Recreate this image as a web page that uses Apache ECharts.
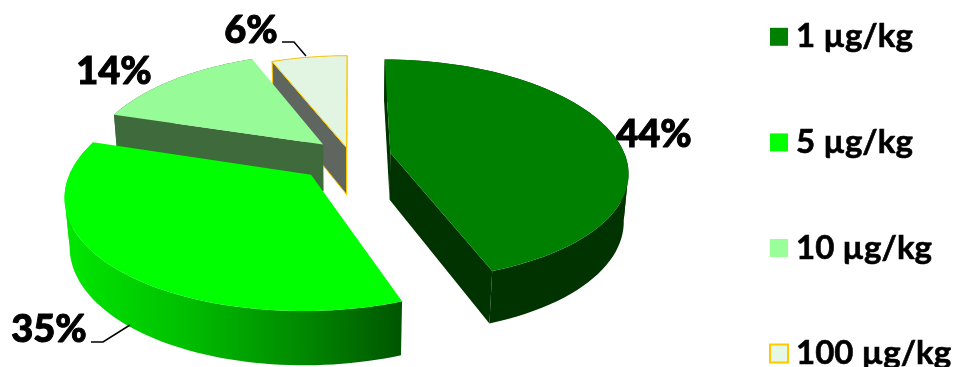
<!DOCTYPE html>
<html>
<head>
<meta charset="utf-8">
<style>html,body{margin:0;padding:0;background:#fff}#chart{width:955px;height:367px}</style>
<script src="https://cdn.jsdelivr.net/npm/echarts@6/dist/echarts.min.js"></script>
</head>
<body>
<div id="chart"></div>
<script>
// Dose groups and their percentage shares
const doses = ['1 µg/kg', '5 µg/kg', '10 µg/kg', '100 µg/kg'];
const shares = [44, 35, 14, 6];

// Appearance of each wedge
const topColors = ['#008000', '#00ff00', '#97fb97', '#e2f5e2'];
const legendColors = ['#008000', '#00ff00', '#99ff99', '#e5f8e5'];
const cutColors = ['#003300', '#005500', '#3f6a3c', '#5f665f'];
const outlineColors = [null, null, null, '#ffc800'];
const explode = [42, 56, 38, 19];

// Projection of the tilted disc onto the page
const view = { cx: 350, cy: 156, radiusX: 235, radiusY: 108.6, perspX: 0.165, perspY: 0.155, depth: 48, floor: 0.017 };

// Where each percentage text sits, with its optional leader line
const callouts = [
  { x: 654, y: 135, line: null },
  { x: 49, y: 330, line: [[91, 342], [103, 342], [130, 325]] },
  { x: 114, y: 72, line: null },
  { x: 251, y: 31, line: [[282, 42], [294, 42], [306, 56]] }
];

const total = shares.reduce((a, b) => a + b, 0);
const ARC_STEPS = 72;

function project(X, Y, lower) {
  const sink = lower ? view.floor : 0;
  return [
    view.cx + view.radiusX * X / (1 + view.perspX * Y + sink),
    view.cy + (-view.radiusY * Y + (lower ? view.depth : 0)) / (1 + view.perspY * Y + sink)
  ];
}

function wedgeGeometry(index) {
  const before = shares.slice(0, index).reduce((a, b) => a + b, 0);
  const a0 = before / total * 2 * Math.PI;
  const a1 = (before + shares[index]) / total * 2 * Math.PI;
  const mid = (a0 + a1) / 2;
  const d = explode[index] / 240;
  const ox = d * Math.sin(mid);
  const oy = d * Math.cos(mid);
  const rim = (lower) => {
    const pts = [];
    for (let i = 0; i <= ARC_STEPS; i++) {
      const a = a0 + (a1 - a0) * i / ARC_STEPS;
      pts.push(project(ox + Math.sin(a), oy + Math.cos(a), lower));
    }
    return pts;
  };
  return {
    apexTop: project(ox, oy, false),
    apexLow: project(ox, oy, true),
    rimTop: rim(false),
    rimLow: rim(true)
  };
}

function sideFill(index, rim) {
  if (index !== 1) return cutColors[index];
  const xs = rim.map((p) => p[0]);
  return {
    type: 'linear', global: true,
    x: Math.min.apply(null, xs), y: 0, x2: Math.max.apply(null, xs), y2: 0,
    colorStops: [
      { offset: 0, color: '#00e800' },
      { offset: 0.35, color: '#00c000' },
      { offset: 0.7, color: '#008a00' },
      { offset: 1, color: cutColors[index] }
    ]
  };
}

// The rim band folds over itself at the disc's widest points, so it is
// cut there and each part is filled on its own.
function rimBands(g) {
  const bands = [];
  let start = 0;
  let dir = 0;
  for (let i = 1; i <= ARC_STEPS; i++) {
    const step = Math.sign(g.rimTop[i][0] - g.rimTop[i - 1][0]);
    if (dir && step && step !== dir) {
      bands.push([start, i - 1]);
      start = i - 1;
    }
    if (step) dir = step;
  }
  bands.push([start, ARC_STEPS]);
  return bands.map(([a, b]) =>
    g.rimTop.slice(a, b + 1).concat(g.rimLow.slice(a, b + 1).reverse())
  );
}

function renderWedge(index) {
  const g = wedgeGeometry(index);
  const stroke = outlineColors[index];
  const edge = stroke ? { stroke: stroke, lineWidth: 1 } : { stroke: 'none' };
  const poly = (points, fill, style) => ({
    type: 'polygon',
    shape: { points: points },
    style: Object.assign({ fill: fill }, style || { stroke: 'none' })
  });
  const firstTop = g.rimTop[0];
  const lastTop = g.rimTop[ARC_STEPS];
  const lastLow = g.rimLow[ARC_STEPS];
  const bandFill = sideFill(index, g.rimTop);
  const children = rimBands(g).map((band) => poly(band, bandFill));
  // A cut face shows only when its lower edge falls outside the wedge
  if (firstTop[0] - g.apexTop[0] < 0) {
    children.push(poly([g.apexTop, firstTop, g.rimLow[0], g.apexLow], cutColors[index], edge));
  }
  if (lastTop[0] - g.apexTop[0] > 0) {
    children.push(poly([g.apexTop, lastTop, lastLow, g.apexLow], cutColors[index], edge));
  }
  children.push(poly([g.apexTop].concat(g.rimTop), topColors[index], edge));
  const c = callouts[index];
  if (c.line) {
    children.push({
      type: 'polyline',
      shape: { points: c.line },
      style: { stroke: '#000', lineWidth: 1.5, fill: 'none' }
    });
  }
  children.push({
    type: 'text',
    style: {
      x: c.x, y: c.y, text: shares[index] + '%',
      fill: '#000', stroke: '#000', lineWidth: 1,
      align: 'center', verticalAlign: 'middle',
      font: '900 38px Lato'
    }
  });
  return { type: 'group', children: children };
}

const chart = echarts.init(document.getElementById('chart'), null, { renderer: 'canvas' });
chart.setOption({
  animation: false,
  backgroundColor: '#fff',
  legend: {
    orient: 'vertical',
    left: 769,
    top: 20,
    height: 420,
    padding: 0,
    itemWidth: 18,
    itemHeight: 18,
    itemGap: 72,
    selectedMode: false,
    textStyle: {
      color: '#000', fontFamily: 'Lato', fontWeight: 'bold', fontSize: 33,
      padding: [0, 0, 0, 3], textBorderColor: '#000', textBorderWidth: 0.6
    },
    data: doses.map((name, i) => ({
      name: name,
      icon: 'rect',
      itemStyle: {
        color: legendColors[i],
        borderColor: outlineColors[i] || legendColors[i],
        borderWidth: outlineColors[i] ? 2 : 0
      }
    }))
  },
  series: doses.map((name, i) => ({
    type: 'custom',
    name: name,
    coordinateSystem: 'none',
    silent: true,
    z: 10 + doses.length - i,
    itemStyle: { color: legendColors[i] },
    data: [shares[i]],
    renderItem: () => renderWedge(i)
  }))
});
</script>
</body>
</html>
